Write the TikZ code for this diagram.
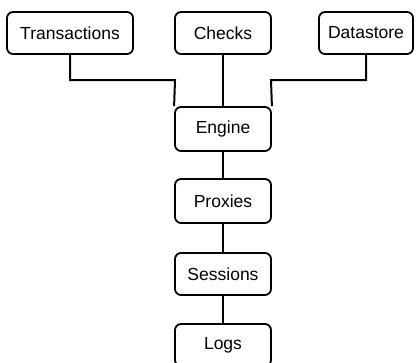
\documentclass[tikz,border=0pt]{standalone}
\usepackage{fontspec}
\setmainfont{Liberation Sans}

\begin{document}
\begin{tikzpicture}[x=1pt,y=1pt,
  module/.style={draw,line width=1.8pt,rounded corners=6pt,minimum height=42pt,
    inner sep=0pt,font=\fontsize{17.5}{20}\selectfont},
  link/.style={line width=2pt}]

\clip (0,0) rectangle (418,-362);
\useasboundingbox (0,0) rectangle (418,-362);

\node[module,minimum width=126pt] (trans) at (70,-33) {Transactions};
\node[module,minimum width=96pt] (checks) at (223,-33) {Checks};
\node[module,minimum width=94pt] (data) at (366,-33) {Datastore};
\node[module,minimum width=96pt,minimum height=44pt] (engine) at (223,-129) {Engine};
\node[module,minimum width=96pt,minimum height=44pt] (proxies) at (223,-201) {Proxies};
\node[module,minimum width=96pt] (sessions) at (223,-274) {Sessions};
\node[module,minimum width=96pt] (logs) at (223,-345) {Logs};

\coordinate (bendL) at (175,-80);
\coordinate (bendR) at (271,-80);

\draw[link] (trans.south) |- (bendL) -- (engine.north west);
\draw[link] (checks.south) -- (engine.north);
\draw[link] (data.south) |- (bendR) -- (engine.north east);
\draw[link] (engine) -- (proxies);
\draw[link] (proxies) -- (sessions);
\draw[link] (sessions) -- (logs);
\end{tikzpicture}
\end{document}
